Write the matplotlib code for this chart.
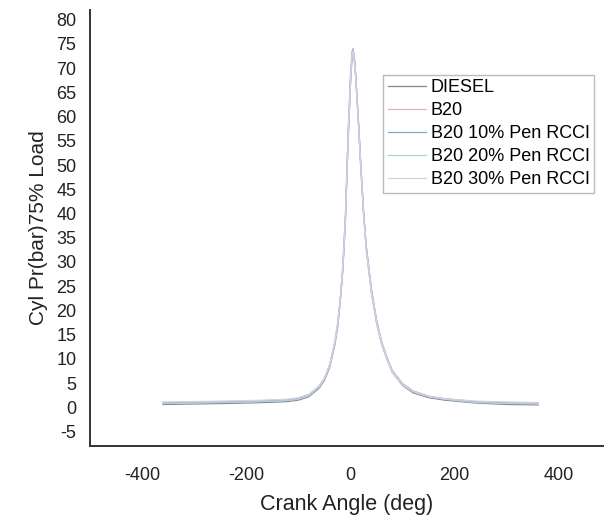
import matplotlib
matplotlib.use("Agg")
import matplotlib.pyplot as plt

plt.rcParams['font.family'] = ['Liberation Sans', 'DejaVu Sans']
plt.rcParams['axes.unicode_minus'] = False

# crank angle (deg) shared by all traces
angle = [-360, -300, -240, -180, -140, -120, -100, -80, -60, -50, -40, -30, -25,
         -20, -15, -10, -5, 0, 3, 5, 8, 10, 15, 20, 25, 30, 40, 50, 60, 70, 80,
         100, 120, 150, 180, 240, 300, 360]

# cylinder pressure (bar) at 75% load
diesel = [0.6, 0.7, 0.8, 0.95, 1.1, 1.2, 1.5, 2.2, 4.0, 5.6, 8.3, 13.0, 16.5,
          21.5, 28.0, 38.0, 54.0, 67.0, 72.5, 73.5, 71.0, 68.0, 59.0, 49.0, 40.0,
          33.0, 24.0, 17.5, 13.0, 10.0, 7.3, 4.5, 3.0, 2.0, 1.5, 0.9, 0.6, 0.5]
b20 = [0.9, 1.0, 1.1, 1.25, 1.4, 1.5, 1.8, 2.5, 4.3, 5.9, 8.6, 13.3, 16.8,
       21.8, 28.5, 38.5, 54.5, 67.5, 72.8, 73.2, 70.5, 67.5, 58.5, 48.5, 39.5,
       32.5, 23.5, 17.2, 12.8, 9.8, 7.2, 4.6, 3.2, 2.2, 1.7, 1.1, 0.9, 0.8]
b20_10 = [1.0, 1.1, 1.2, 1.35, 1.5, 1.6, 1.9, 2.6, 4.4, 6.0, 8.8, 13.6, 17.2,
          22.2, 29.0, 39.5, 56.0, 69.0, 73.5, 74.0, 71.5, 68.5, 59.5, 49.5, 40.5,
          33.5, 24.5, 18.0, 13.4, 10.3, 7.6, 4.9, 3.4, 2.3, 1.8, 1.2, 1.0, 0.9]
b20_20 = [0.8, 0.9, 1.0, 1.15, 1.3, 1.4, 1.7, 2.4, 4.2, 5.8, 8.5, 13.2, 16.7,
          21.7, 28.3, 38.3, 54.8, 68.0, 73.0, 73.8, 71.2, 68.2, 59.2, 49.2, 40.2,
          33.2, 24.2, 17.8, 13.2, 10.1, 7.5, 4.8, 3.3, 2.2, 1.7, 1.0, 0.8, 0.7]
b20_30 = [1.1, 1.2, 1.3, 1.45, 1.6, 1.7, 2.0, 2.7, 4.5, 6.1, 8.9, 13.7, 17.3,
          22.3, 29.0, 39.0, 55.0, 68.0, 72.8, 73.4, 70.8, 67.8, 58.8, 48.8, 39.8,
          32.8, 23.8, 17.6, 13.1, 10.0, 7.4, 4.7, 3.3, 2.3, 1.8, 1.3, 1.1, 1.0]

series = [('DIESEL', diesel, '#85859a'),
          ('B20', b20, '#e8b3c0'),
          ('B20 10% Pen RCCI', b20_10, '#86aac6'),
          ('B20 20% Pen RCCI', b20_20, '#a8d5d6'),
          ('B20 30% Pen RCCI', b20_30, '#dfcce0')]

fig = plt.figure(figsize=(6.05, 5.2), dpi=100)
ax = fig.add_axes([0.149, 0.142, 0.848, 0.839])

for name, vals, col in series:
    ax.plot(angle, vals, color=col, lw=0.9, label=name)

ax.set_xlim(-500, 485)
ax.set_ylim(-8, 82)
ax.set_xticks([-400, -200, 0, 200, 400])
ax.set_yticks(range(-5, 81, 5))
ax.tick_params(length=0, labelsize=13, colors='#222222')
ax.tick_params(axis='x', pad=15)
ax.tick_params(axis='y', pad=10)

for s in ['top', 'right']:
    ax.spines[s].set_visible(False)
for s in ['left', 'bottom']:
    ax.spines[s].set_linewidth(1.4)
    ax.spines[s].set_color('#333333')

ax.set_xlabel('Crank Angle (deg)', fontsize=15.5, color='#222222', labelpad=7)
ax.set_ylabel('Cyl Pr(bar)75% Load', fontsize=15, color='#222222', labelpad=6)

leg = ax.legend(loc='upper left', bbox_to_anchor=(0.571, 0.851), fontsize=13,
                frameon=True, fancybox=False, handlelength=2.1,
                labelspacing=0.33, borderpad=0.25, handletextpad=0.3,
                borderaxespad=0)
leg.get_frame().set_edgecolor('#aaaaaa')
leg.get_frame().set_linewidth(1.0)

fig.savefig('out.png', dpi=100)
